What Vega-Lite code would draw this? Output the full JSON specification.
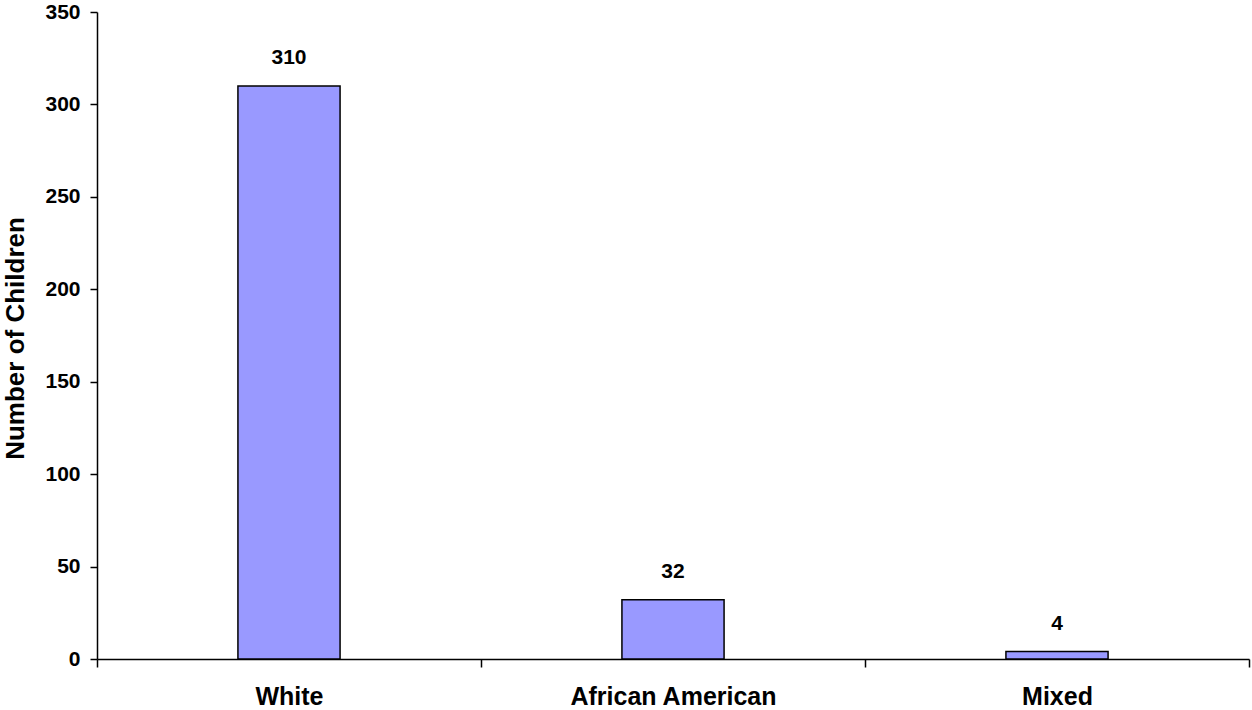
{
  "$schema": "https://vega.github.io/schema/vega-lite/v6.json",
  "width": 1152,
  "height": 647,
  "autosize": {"type": "none"},
  "padding": {"left": 97, "top": 12, "right": 3, "bottom": 51},
  "background": "white",
  "config": {
    "view": {"stroke": null},
    "font": "Liberation Sans",
    "axis": {"grid": false, "domainColor": "black", "tickColor": "black", "labelColor": "black", "titleColor": "black", "domainWidth": 1.5, "tickWidth": 1.5}
  },
  "data": {
    "values": [
      {"group": "White", "children": 310},
      {"group": "African American", "children": 32},
      {"group": "Mixed", "children": 4}
    ]
  },
  "encoding": {
    "x": {
      "field": "group",
      "type": "nominal",
      "sort": null,
      "scale": {"paddingInner": 0, "paddingOuter": 0},
      "axis": {"title": null, "labelAngle": 0, "tickBand": "extent", "tickSize": 8, "labelPadding": 37, "labelFontSize": 25, "labelFontWeight": "bold", "labelBaseline": "alphabetic", "labelLimit": 0}
    },
    "y": {
      "field": "children",
      "type": "quantitative",
      "scale": {"domain": [0, 350], "nice": false},
      "axis": {"values": [0, 50, 100, 150, 200, 250, 300, 350], "title": "Number of Children", "titleFontSize": 26, "titleFontWeight": "bold", "titleAngle": -90, "titleX": -74, "titleY": 326, "titleBaseline": "alphabetic", "titleAlign": "center", "labelFontSize": 21, "labelFontWeight": "bold", "tickSize": 7, "labelPadding": 10}
    }
  },
  "layer": [
    {"mark": {"type": "bar", "color": "#9999FF", "stroke": "black", "strokeWidth": 1.5, "width": {"band": 0.266}}},
    {
      "mark": {"type": "text", "dy": -22, "baseline": "alphabetic", "fontSize": 21, "fontWeight": "bold", "color": "black"},
      "encoding": {"text": {"field": "children", "type": "quantitative"}}
    }
  ]
}
